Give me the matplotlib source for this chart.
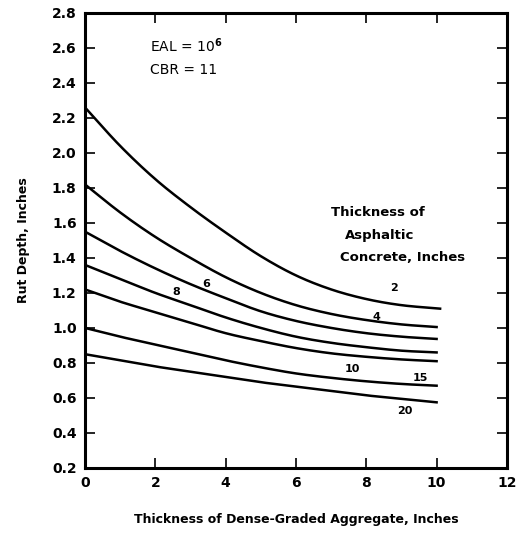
import numpy as np
import matplotlib
matplotlib.use("Agg")
import matplotlib.pyplot as plt

# Grubosc kruszywa (os X)
x = [0, 1, 2, 3, 4, 5, 6, 7, 8, 9, 10]

# Glebokosc koleiny dla kolejnych grubosci betonu asfaltowego
rut_2 = [2.26, 2.04, 1.85, 1.69, 1.545, 1.41, 1.30, 1.22, 1.165, 1.13, 1.11]
rut_4 = [1.82, 1.66, 1.52, 1.40, 1.29, 1.20, 1.13, 1.08, 1.045, 1.02, 1.005]
rut_6 = [1.55, 1.44, 1.34, 1.25, 1.17, 1.095, 1.04, 1.00, 0.97, 0.95, 0.937]
rut_8 = [1.36, 1.28, 1.20, 1.13, 1.06, 1.00, 0.95, 0.915, 0.89, 0.87, 0.86]
rut_10 = [1.22, 1.15, 1.09, 1.03, 0.97, 0.925, 0.885, 0.855, 0.835, 0.82, 0.81]
rut_15 = [1.00, 0.95, 0.905, 0.86, 0.815, 0.775, 0.74, 0.715, 0.695, 0.68, 0.67]
rut_20 = [0.85, 0.815, 0.78, 0.75, 0.72, 0.69, 0.665, 0.64, 0.615, 0.595, 0.575]

curves = [rut_2, rut_4, rut_6, rut_8, rut_10, rut_15, rut_20]
curve_labels = ["2", "4", "6", "8", "10", "15", "20"]
label_pos = [(8.8, 1.23), (8.3, 1.06), (3.45, 1.25), (2.6, 1.205),
             (7.6, 0.765), (9.55, 0.712), (9.1, 0.525)]

x_ticks = [0, 2, 4, 6, 8, 10, 12]
y_ticks = [0.2, 0.4, 0.6, 0.8, 1.0, 1.2, 1.4, 1.6, 1.8, 2.0, 2.2, 2.4, 2.6, 2.8]


# wygladzenie linii miedzy odczytanymi punktami (Catmull-Rom)
def smooth(xs, ys, n=20):
    p = np.column_stack([xs, ys]).astype(float)
    p = np.vstack([2 * p[0] - p[1], p, 2 * p[-1] - p[-2]])
    out = []
    t = np.linspace(0, 1, n, endpoint=False)[:, None]
    for i in range(1, len(p) - 2):
        p0, p1, p2, p3 = p[i - 1], p[i], p[i + 1], p[i + 2]
        seg = 0.5 * ((2 * p1) + (-p0 + p2) * t + (2 * p0 - 5 * p1 + 4 * p2 - p3) * t ** 2
                     + (-p0 + 3 * p1 - 3 * p2 + p3) * t ** 3)
        out.append(seg)
    out.append(p[-2][None, :])
    out = np.vstack(out)
    return out[:, 0], out[:, 1]


plt.rcParams['font.family'] = ['DejaVu Sans']
fig = plt.figure(figsize=(5.21, 5.33), dpi=100)
ax = fig.add_axes([0.163, 0.122, 0.81, 0.854])

for i, ys in enumerate(curves):
    xs = list(x)
    if i == 0:
        xs[-1] = 10.1
    sx, sy = smooth(xs, ys)
    ax.plot(sx, sy, color='black', linewidth=1.8)
    ax.text(label_pos[i][0], label_pos[i][1], curve_labels[i], fontsize=8,
            fontweight='bold', ha='center', va='center')

ax.set_xlim(0, 12)
ax.set_ylim(0.2, 2.8)
ax.set_xticks(x_ticks)
ax.set_yticks(y_ticks)
ax.set_xticklabels([str(t) for t in x_ticks], fontsize=10, fontweight='bold')
ax.set_yticklabels([f"{t:.1f}" for t in y_ticks], fontsize=10, fontweight='bold')
ax.tick_params(direction='in', length=7, width=1.2, top=True, right=True, pad=6)

for s in ax.spines.values():
    s.set_linewidth(2.2)

ax.set_xlabel("Thickness of Dense-Graded Aggregate, Inches", fontsize=9,
              fontweight='bold', labelpad=16)
ax.set_ylabel("Rut Depth, Inches", fontsize=9, fontweight='bold', labelpad=16)

ax.text(1.85, 2.61, "EAL = 10$^{\\mathbf{6}}$", fontsize=10, va='center')
ax.text(1.85, 2.475, "CBR = 11", fontsize=10, va='center')

ax.text(7.0, 1.66, "Thickness of", fontsize=9.5, fontweight='bold', va='center')
ax.text(7.4, 1.53, "Asphaltic", fontsize=9.5, fontweight='bold', va='center')
ax.text(7.25, 1.40, "Concrete, Inches", fontsize=9.5, fontweight='bold', va='center')

plt.savefig("out.png", dpi=100)
